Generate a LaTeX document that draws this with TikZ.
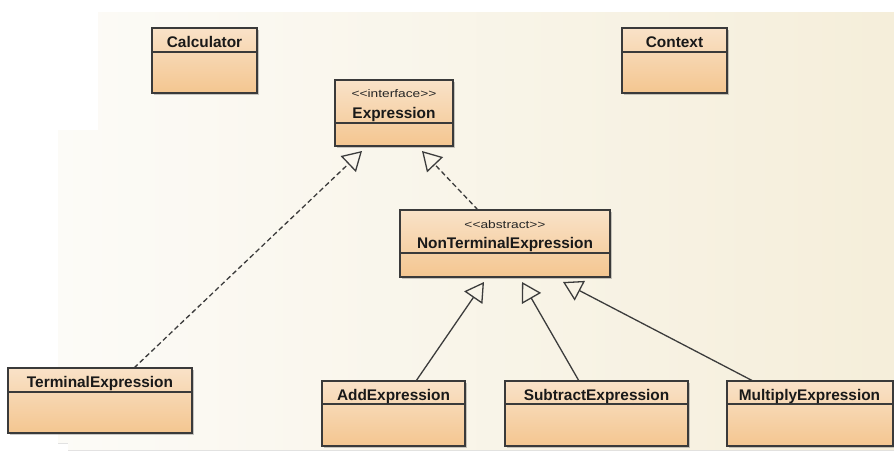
\documentclass[tikz,border=0pt]{standalone}
\usepackage{fontspec}
\usepackage{graphicx}
\setmainfont{Liberation Sans}
\newfontfamily\plainsans{Liberation Sans}[Ligatures=TeXOff]
\usetikzlibrary{arrows.meta,shadows}

\definecolor{bgL}{HTML}{FCFBF7}
\definecolor{bgR}{HTML}{F5EEDA}
\definecolor{boxTop}{HTML}{F9E2C8}
\definecolor{boxBot}{HTML}{F4C690}
\definecolor{edgeC}{HTML}{3A3A3A}
\definecolor{lineC}{HTML}{3C3C3C}

\begin{document}
\begin{tikzpicture}[x=1pt,y=-1pt,
  classbox/.style={draw=edgeC, line width=1.4pt, top color=boxTop, bottom color=boxBot,
    inner sep=0pt, outer sep=0pt, anchor=north west,
    drop shadow={shadow xshift=2pt, shadow yshift=-2pt, opacity=0.35, fill=black!60}},
  divider/.style={draw=edgeC, line width=1.3pt},
  classname/.style={anchor=base, inner sep=0pt, text=black!90, font=\fontsize{15.4}{18}\selectfont\bfseries},
  stereo/.style={anchor=base, inner sep=0pt, text=black!85, font=\plainsans\fontsize{11}{13}\selectfont},
  generalize/.style={draw=lineC, line width=1.3pt,
    -{Triangle[open, length=19pt, width=22pt, line width=1.3pt]}},
  realize/.style={generalize, dash pattern=on 5pt off 3pt}]

\useasboundingbox (0,0) rectangle (894,450);
\fill[white] (0,0) rectangle (894,450);
\fill[left color=bgL, right color=bgR]
  (98,12) -- (894,12) -- (894,450) -- (68,450) -- (68,443) -- (58,443) -- (58,130) -- (98,130) -- cycle;

% Calculator
\node[classbox, minimum width=105pt, minimum height=65pt] (calc) at (152,28) {};
\draw[divider] ([yshift=-24pt]calc.north west) -- ([yshift=-24pt]calc.north east);
\node[classname] (calct) at (204.5,47) {Calculator};

% Context
\node[classbox, minimum width=105pt, minimum height=65pt] (ctx) at (622,28) {};
\draw[divider] ([yshift=-24pt]ctx.north west) -- ([yshift=-24pt]ctx.north east);
\node[classname] (ctxt) at (674.5,47) {Context};

% Expression
\node[classbox, minimum width=118pt, minimum height=66pt] (expr) at (335,80) {};
\draw[divider] ([yshift=-43pt]expr.north west) -- ([yshift=-43pt]expr.north east);
\node[stereo] (exprs) at (394,97.5) {\scalebox{1.25}[1]{<<interface>>}};
\node[classname] (exprt) at (394,118) {Expression};

% NonTerminalExpression
\node[classbox, minimum width=210pt, minimum height=67pt] (nte) at (400,210) {};
\draw[divider] ([yshift=-43pt]nte.north west) -- ([yshift=-43pt]nte.north east);
\node[stereo] (ntes) at (505,228) {\scalebox{1.25}[1]{<<abstract>>}};
\node[classname] (ntet) at (505,248) {NonTerminalExpression};

% TerminalExpression
\node[classbox, minimum width=184pt, minimum height=65pt] (term) at (8,368) {};
\draw[divider] ([yshift=-24pt]term.north west) -- ([yshift=-24pt]term.north east);
\node[classname] (termt) at (100,387) {TerminalExpression};

% AddExpression
\node[classbox, minimum width=143pt, minimum height=65pt] (add) at (322,381) {};
\draw[divider] ([yshift=-23pt]add.north west) -- ([yshift=-23pt]add.north east);
\node[classname] (addt) at (393.5,400) {AddExpression};

% SubtractExpression
\node[classbox, minimum width=183pt, minimum height=65pt] (sub) at (505,381) {};
\draw[divider] ([yshift=-23pt]sub.north west) -- ([yshift=-23pt]sub.north east);
\node[classname] (subt) at (596.5,400) {SubtractExpression};

% MultiplyExpression
\node[classbox, minimum width=166pt, minimum height=65pt] (mul) at (727,381) {};
\draw[divider] ([yshift=-23pt]mul.north west) -- ([yshift=-23pt]mul.north east);
\node[classname] (mult) at (809.5,400) {MultiplyExpression};

% Connectors
\draw[realize] ([xshift=126pt]term.north west) -- ([xshift=27pt,yshift=-5pt]expr.south west);
\draw[realize] ([xshift=78pt]nte.north west) -- ([xshift=87pt,yshift=-5pt]expr.south west);
\draw[generalize] ([xshift=94pt]add.north west) -- ([xshift=84pt,yshift=-5pt]nte.south west);
\draw[generalize] ([xshift=74pt]sub.north west) -- ([xshift=122pt,yshift=-5pt]nte.south west);
\draw[generalize] ([xshift=26pt]mul.north west) -- ([xshift=163pt,yshift=-5pt]nte.south west);

\end{tikzpicture}
\end{document}
